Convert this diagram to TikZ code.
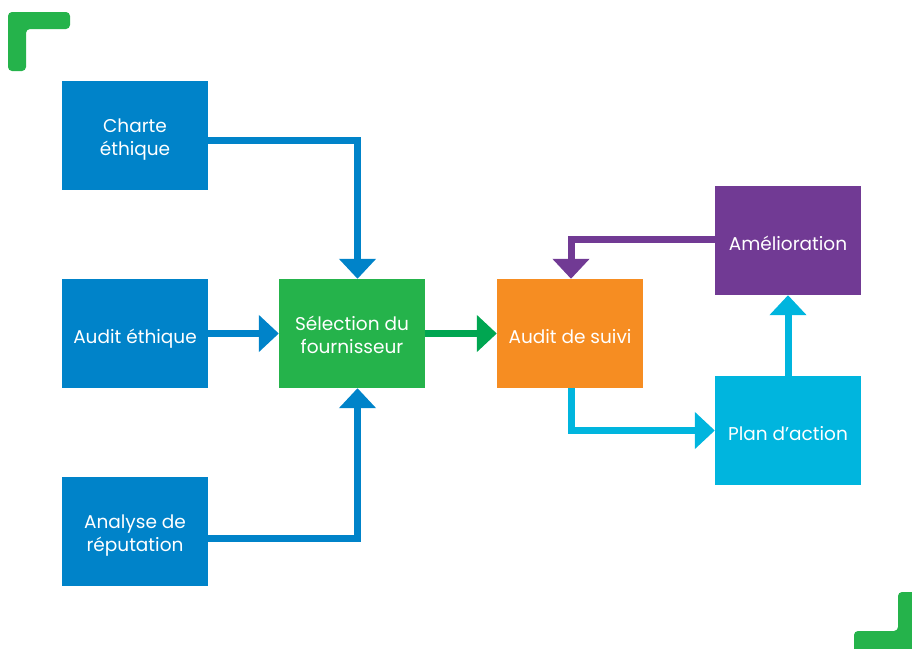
\documentclass[tikz,border=0pt]{standalone}
\usepackage{fontspec}
\setmainfont{Poppins}
\usetikzlibrary{arrows.meta}
\definecolor{ethblue}{HTML}{0083C9}
\definecolor{selgreen}{HTML}{25B34B}
\definecolor{arrowgreen}{HTML}{00A651}
\definecolor{suiviorange}{HTML}{F68D22}
\definecolor{amelpurple}{HTML}{713A94}
\definecolor{plancyan}{HTML}{00B5DE}
\begin{document}
\begin{tikzpicture}[x=1pt,y=-1pt,
  box/.style={minimum width=146pt,minimum height=109pt,inner sep=0pt,text=white,align=center,
    font=\fontsize{18.5}{22.5}\selectfont,
    execute at begin node={\rule{0pt}{24pt}},execute at end node={\rule[-5pt]{0pt}{5pt}}},
  twoline/.style={box,execute at begin node={\rule{0pt}{44pt}}},
  flow/.style={line width=7pt,-{Triangle[length=20pt,width=36pt]}}]
\useasboundingbox (0,0) rectangle (912,648);
% corner marks
\fill[selgreen,rounded corners=4pt] (8,12) -- (70,12) -- (70,29) -- (26,29) -- (26,71) -- (8,71) -- cycle;
\fill[selgreen,rounded corners=4pt] (898,592) -- (918,592) -- (918,654) -- (854,654) -- (854,631) -- (898,631) -- cycle;
% boxes
\node[twoline,fill=ethblue] (charte) at (135,135.5) {Charte\\éthique};
\node[box,fill=ethblue] (audeth) at (135,333.5) {Audit éthique};
\node[twoline,fill=ethblue] (analyse) at (135,531.5) {Analyse de\\réputation};
\node[twoline,fill=selgreen] (select) at (352,333.5) {Sélection du\\fournisseur};
\node[box,fill=suiviorange] (suivi) at (570,333.5) {Audit de suivi};
\node[box,fill=amelpurple] (amel) at (788,240.5) {Amélioration};
\node[box,fill=plancyan] (plan) at (788,430.5) {Plan d’action};
% arrows
\draw[flow,ethblue] ([yshift=-5pt]charte.east) -| ([xshift=5.5pt]select.north);
\draw[flow,ethblue] (audeth.east) -- (select.west);
\draw[flow,ethblue] ([yshift=-6.5pt]analyse.east) -| ([xshift=5.5pt]select.south);
\draw[flow,arrowgreen] (select.east) -- (suivi.west);
\draw[flow,amelpurple] ([yshift=1.5pt]amel.west) -| ([xshift=1pt]suivi.north);
\draw[flow,plancyan] ([xshift=1pt]suivi.south) |- (plan.west);
\draw[flow,plancyan] (plan.north) -- (amel.south);
\end{tikzpicture}
\end{document}
